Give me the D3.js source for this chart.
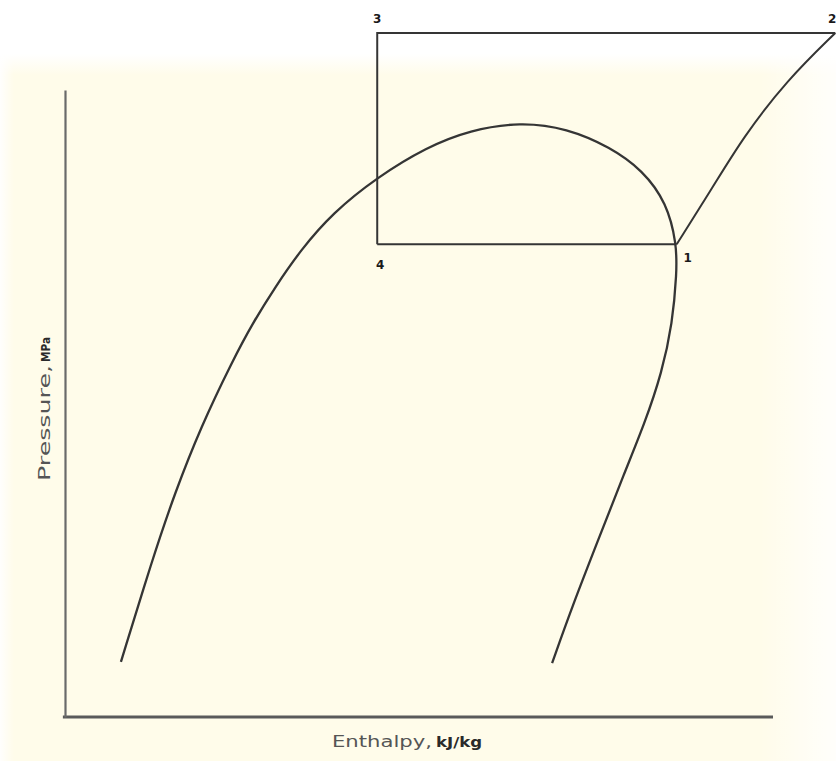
<!DOCTYPE html>
<html>
<head>
<meta charset="utf-8">
<script src="https://cdn.jsdelivr.net/npm/d3@7"></script>
<style>
  html, body { margin: 0; padding: 0; background: #fffcea; }
  svg { display: block; }
</style>
</head>
<body>
<svg id="chart" width="836" height="761"></svg>
<script>
// Saturation dome of the refrigerant on a pressure–enthalpy diagram (arbitrary units)
const domeEnthalpy = [7.9, 12.3, 15.5, 19.2, 23.7, 26.5, 29.7, 33.3, 37.8, 44.1, 51.1, 57.2, 64.3, 70.9, 77.0, 81.6, 85.0, 86.4, 86.4, 85.8, 84.3, 81.9, 79.0, 75.3, 71.6, 68.8];
const domePressure = [8.8, 25.0, 35.7, 46.3, 56.9, 62.8, 68.6, 74.5, 80.4, 86.1, 90.9, 93.6, 94.9, 93.9, 90.9, 87.2, 82.0, 75.4, 70.8, 62.8, 54.9, 46.9, 38.9, 28.2, 17.5, 8.6];

// Vapour-compression cycle state points
const stateLabels = ["1", "2", "3", "4"];
const stateEnthalpy = [86.4, 108.8, 44.1, 44.1];
const statePressure = [75.4, 109.1, 109.1, 75.4];

// Compression path 1 -> 2
const compEnthalpy = [86.4, 91.5, 95.8, 102.0, 108.8];
const compPressure = [75.4, 84.5, 92.5, 101.6, 109.1];

const xLabel = "Enthalpy,";
const xUnit = "kJ/kg";
const yLabel = "Pressure,";
const yUnit = "MPa";

const svg = d3.select("#chart");
const W = 836, H = 761;

// paper background: white along the top and side margins fading into cream
const defs = svg.append("defs");
const gTop = defs.append("linearGradient").attr("id", "topFade").attr("x1", 0).attr("y1", 0).attr("x2", 0).attr("y2", 1);
gTop.append("stop").attr("offset", "0%").attr("stop-color", "#ffffff").attr("stop-opacity", 1);
gTop.append("stop").attr("offset", "72%").attr("stop-color", "#ffffff").attr("stop-opacity", 1);
gTop.append("stop").attr("offset", "100%").attr("stop-color", "#ffffff").attr("stop-opacity", 0);
const gRight = defs.append("linearGradient").attr("id", "rightFade").attr("x1", 0).attr("y1", 0).attr("x2", 1).attr("y2", 0);
gRight.append("stop").attr("offset", "0%").attr("stop-color", "#ffffff").attr("stop-opacity", 0);
gRight.append("stop").attr("offset", "100%").attr("stop-color", "#ffffff").attr("stop-opacity", 0.8);
const gLeft = defs.append("linearGradient").attr("id", "leftFade").attr("x1", 0).attr("y1", 0).attr("x2", 1).attr("y2", 0);
gLeft.append("stop").attr("offset", "0%").attr("stop-color", "#ffffff").attr("stop-opacity", 0.9);
gLeft.append("stop").attr("offset", "100%").attr("stop-color", "#ffffff").attr("stop-opacity", 0);

svg.append("rect").attr("width", W).attr("height", H).attr("fill", "#fffcea");
svg.append("rect").attr("x", 760).attr("y", 0).attr("width", 76).attr("height", H).attr("fill", "url(#rightFade)");
svg.append("rect").attr("x", 0).attr("y", 0).attr("width", 14).attr("height", H).attr("fill", "url(#leftFade)");
svg.append("rect").attr("x", 0).attr("y", 0).attr("width", W).attr("height", 75).attr("fill", "url(#topFade)");

const x = d3.scaleLinear().domain([0, 100]).range([65, 773]);
const y = d3.scaleLinear().domain([0, 100]).range([717, 90]);

// axes: bare lines, no ticks
svg.append("g")
  .attr("transform", `translate(0,${y(0)})`)
  .call(d3.axisBottom(x).ticks(0).tickSizeOuter(0))
  .call(g => g.select(".domain").attr("stroke", "#5a5a5a").attr("stroke-width", 3).attr("d", `M${x(-0.3)},0H${x(100)}`));

svg.append("g")
  .attr("transform", `translate(${x(0)},0)`)
  .call(d3.axisLeft(y).ticks(0).tickSizeOuter(0))
  .call(g => g.select(".domain").attr("stroke", "#6a6a6a").attr("stroke-width", 2.2));

const lineColor = "#353535";

// saturation dome (smoothed B-spline through the read points)
const dome = d3.range(domeEnthalpy.length).map(i => [domeEnthalpy[i], domePressure[i]]);
const smooth = d3.line().x(d => x(d[0])).y(d => y(d[1])).curve(d3.curveBasis);
svg.append("path").attr("d", smooth(dome))
  .attr("fill", "none").attr("stroke", lineColor).attr("stroke-width", 2.3);

// cycle: 4 -> 1 evaporation, 2 -> 3 condensation, 3 -> 4 expansion
const st = i => [stateEnthalpy[i], statePressure[i]];
const straight = d3.line().x(d => x(d[0])).y(d => y(d[1]));
svg.append("path").attr("d", straight([st(3), st(0)]))
  .attr("fill", "none").attr("stroke", lineColor).attr("stroke-width", 2);
svg.append("path").attr("d", straight([st(1), st(2), st(3)]))
  .attr("fill", "none").attr("stroke", lineColor).attr("stroke-width", 2);

// compression 1 -> 2
const comp = d3.range(compEnthalpy.length).map(i => [compEnthalpy[i], compPressure[i]]);
svg.append("path").attr("d", smooth(comp))
  .attr("fill", "none").attr("stroke", lineColor).attr("stroke-width", 2);

// state point labels
const labelOffset = { "1": [11, 18], "2": [-3, -10], "3": [0, -10], "4": [3, 25] };
svg.selectAll("text.state").data(stateLabels).enter().append("text")
  .attr("class", "state")
  .attr("x", (d, i) => x(stateEnthalpy[i]) + labelOffset[d][0])
  .attr("y", (d, i) => y(statePressure[i]) + labelOffset[d][1])
  .attr("text-anchor", "middle")
  .attr("font-family", "DejaVu Sans, sans-serif")
  .attr("font-weight", "bold")
  .attr("font-size", 12)
  .attr("fill", "#1a1a1a")
  .text(d => d);

// axis titles: light quantity name followed by a narrow bold unit
const font = "DejaVu Sans, sans-serif";
svg.append("text")
  .attr("x", 332).attr("y", 747)
  .attr("font-family", font).attr("font-size", 16).attr("fill", "#555555")
  .attr("textLength", 100).attr("lengthAdjust", "spacingAndGlyphs")
  .text(xLabel);
svg.append("text")
  .attr("x", 436).attr("y", 747)
  .attr("font-family", font).attr("font-size", 14).attr("font-weight", "bold").attr("fill", "#2a2a2a")
  .attr("textLength", 46).attr("lengthAdjust", "spacingAndGlyphs")
  .text(xUnit);

const yTitle = svg.append("g").attr("transform", "translate(50,481) rotate(-90)");
yTitle.append("text")
  .attr("x", 0).attr("y", 0)
  .attr("font-family", font).attr("font-size", 16).attr("fill", "#555555")
  .attr("textLength", 116).attr("lengthAdjust", "spacingAndGlyphs")
  .text(yLabel);
yTitle.append("text")
  .attr("x", 119).attr("y", 0)
  .attr("font-family", font).attr("font-size", 13).attr("font-weight", "bold").attr("fill", "#2a2a2a")
  .attr("textLength", 25).attr("lengthAdjust", "spacingAndGlyphs")
  .text(yUnit);
</script>
</body>
</html>
